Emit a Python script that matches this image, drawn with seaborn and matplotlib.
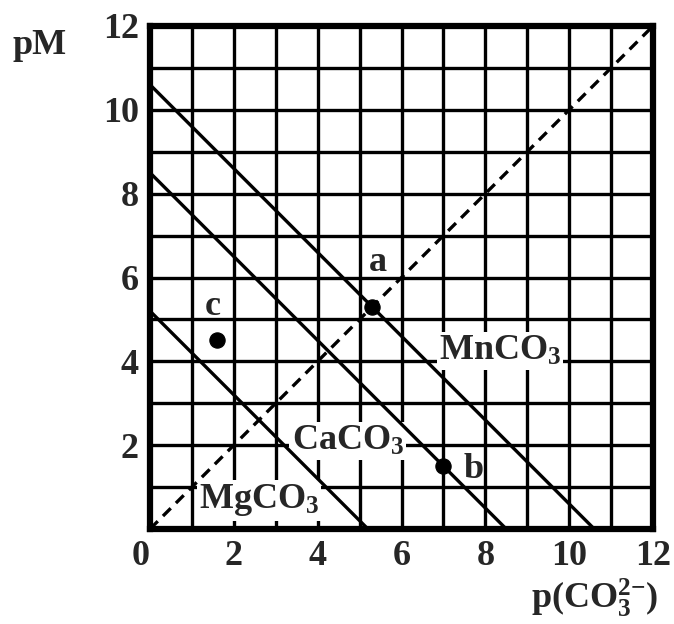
import numpy as np
import pandas as pd
import matplotlib
matplotlib.use("Agg")
import matplotlib.pyplot as plt
from matplotlib.ticker import MultipleLocator
import seaborn as sns

# Carbonate solubility lines: pM + p(CO3^2-) = pKsp
salts = ["MnCO3", "CaCO3", "MgCO3"]
salt_labels = [r"$\mathrm{MnCO_3}$", r"$\mathrm{CaCO_3}$", r"$\mathrm{MgCO_3}$"]
pksp = [10.6, 8.5, 5.2]

# Marked points
point_names = ["a", "b", "c"]
point_x = [5.3, 7.0, 1.6]
point_y = [5.3, 1.5, 4.5]

# Axis ticks
ticks = [0, 2, 4, 6, 8, 10, 12]

FS = 26

sns.set_theme(style="white")
plt.rcParams["font.family"] = ["Liberation Serif", "DejaVu Serif"]
plt.rcParams["font.weight"] = "bold"
plt.rcParams["mathtext.fontset"] = "custom"
plt.rcParams["mathtext.rm"] = "Liberation Serif:bold"
plt.rcParams["mathtext.it"] = "Liberation Serif:bold"
plt.rcParams["mathtext.bf"] = "Liberation Serif:bold"

fig = plt.figure(figsize=(6.74, 6.24), dpi=100)
ax = fig.add_axes([150 / 674, 1 - 529 / 624, 503 / 674, 503 / 624])

# Grid every unit
ax.set_xlim(0, 12)
ax.set_ylim(0, 12)
ax.xaxis.set_minor_locator(MultipleLocator(1))
ax.yaxis.set_minor_locator(MultipleLocator(1))
ax.set_axisbelow(True)
ax.grid(which="both", color="black", linewidth=2.4)
ax.tick_params(which="both", length=0, labelsize=FS, pad=8)
ax.set_xticks(ticks)
ax.set_yticks(ticks)
ax.set_xticklabels([str(t) for t in ticks], fontweight="bold")
ax.set_yticklabels(["" if t == 0 else str(t) for t in ticks], fontweight="bold")
for lab in ax.get_xticklabels():
    if lab.get_text() == "0":
        lab.set_horizontalalignment("right")
for sp in ax.spines.values():
    sp.set_visible(True)
    sp.set_color("black")
    sp.set_linewidth(4.5)

# Solubility lines
for name, k in zip(salts, pksp):
    df = pd.DataFrame({"pCO3": [0.0, k], "pM": [k, 0.0]})
    sns.lineplot(data=df, x="pCO3", y="pM", ax=ax, color="black",
                 linewidth=2.4, zorder=3)

# Equal-concentration reference line
diag = pd.DataFrame({"pCO3": [0.0, 12.0], "pM": [0.0, 12.0]})
sns.lineplot(data=diag, x="pCO3", y="pM", ax=ax, color="black",
             linewidth=2.4, zorder=3)
ax.lines[-1].set_dashes((3.3, 2.2))

# Points
sns.scatterplot(x=point_x, y=point_y, ax=ax, color="black", s=120,
                edgecolor="black", zorder=4)

box = dict(facecolor="white", edgecolor="none", pad=1.5)
ax.text(8.35, 4.25, salt_labels[0], fontsize=FS, ha="center", va="center",
        bbox=box, zorder=2.6)
ax.text(4.72, 2.1, salt_labels[1], fontsize=FS, ha="center", va="center",
        bbox=box, zorder=2.6)
ax.text(2.6, 0.68, salt_labels[2], fontsize=FS, ha="center", va="center",
        bbox=box, zorder=2.6)

ax.text(5.44, 6.35, point_names[0], fontsize=FS, ha="center", va="center")
ax.text(7.73, 1.42, point_names[1], fontsize=FS, ha="center", va="center")
ax.text(1.5, 5.3, point_names[2], fontsize=FS, ha="center", va="center")

ax.set_xlabel("")
ax.set_ylabel("")
fig.text(40 / 674, 1 - 45 / 624, "pM", fontsize=FS, fontweight="bold",
         ha="center", va="center")
fig.text(595 / 674, 1 - 598 / 624, r"$\mathrm{p(CO_3^{2{-}})}$", fontsize=FS,
         ha="center", va="center")

fig.savefig("out.png", dpi=100, facecolor="white")
